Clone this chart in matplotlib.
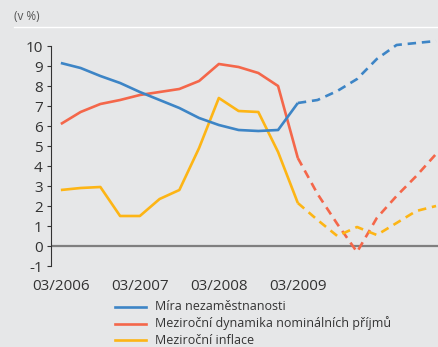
import matplotlib.pyplot as plt
import numpy as np

plt.rcParams['font.family'] = ['Open Sans', 'DejaVu Sans']
plt.rcParams['axes.unicode_minus'] = False

# quarterly observations 03/2006 .. 12/2010, forecast from index 12 on
tick_labels = ['03/2006', '03/2007', '03/2008', '03/2009']
unemployment = [9.15, 8.9, 8.5, 8.15, 7.7, 7.3, 6.9, 6.4, 6.05, 5.8, 5.75, 5.8,
                7.15, 7.3, 7.75, 8.35, 9.35, 10.05, 10.15, 10.25]
income_growth = [6.1, 6.7, 7.1, 7.3, 7.55, 7.7, 7.85, 8.25, 9.1, 8.95, 8.65, 8.0,
                 4.4, 2.6, 1.1, -0.3, 1.4, 2.5, 3.5, 4.6]
inflation = [2.8, 2.9, 2.95, 1.5, 1.5, 2.35, 2.8, 4.9, 7.4, 6.75, 6.7, 4.7,
             2.15, 1.3, 0.5, 0.95, 0.55, 1.15, 1.75, 2.0]
series_names = ['Míra nezaměstnanosti',
                'Meziroční dynamika nominálních příjmů',
                'Meziroční inflace']
colours = ['#3d85c6', '#f4674a', '#fdb515']
split = 12

bg = '#e6e7e8'
fig = plt.figure(figsize=(4.39, 3.47), dpi=100, facecolor=bg)
ax = fig.add_axes([51 / 439, 1 - 266 / 347, 1 - 51 / 439, 220 / 347], facecolor=bg)

x = np.arange(len(unemployment))
for values, colour in zip([income_growth, inflation, unemployment], [colours[1], colours[2], colours[0]]):
    v = np.array(values)
    ax.plot(x[:split + 1], v[:split + 1], color=colour, lw=1.9, solid_capstyle='butt',
            zorder=3, clip_on=False)
    ax.plot(x[split:], v[split:], color=colour, lw=1.9, dashes=(3.2, 2.2), zorder=3, clip_on=False)

ax.axhline(0, color='#7f7f7f', lw=1.6, zorder=2)

ax.set_xlim(-0.5, 19.15)
ax.set_ylim(-1, 10)
ax.set_yticks(range(-1, 11))
ax.set_xticks([0, 4, 8, 12])
ax.set_xticklabels(tick_labels)
ax.tick_params(axis='y', direction='out', length=3, width=0.8, color='#333333',
               labelsize=11, labelcolor='#333333', pad=3)
ax.tick_params(axis='x', length=0, labelsize=11, labelcolor='#333333', pad=9)
for side in ['top', 'right', 'bottom']:
    ax.spines[side].set_visible(False)
ax.spines['left'].set_color('#333333')
ax.spines['left'].set_linewidth(0.8)

fig.text(14 / 439, 1 - 16 / 347, '(v %)', fontsize=8.5, color='#555555', va='center')
fig.add_artist(plt.Line2D([14 / 439, 1], [1 - 27 / 347] * 2, color='white', lw=1.0))

# legend drawn by hand
for i, (name, colour) in enumerate(zip(series_names, colours)):
    yy = 1 - (307 + i * 16.5) / 347
    fig.add_artist(plt.Line2D([115 / 439, 146 / 439], [yy, yy], color=colour, lw=1.9))
    fig.text(155 / 439, yy, name, fontsize=9, color='#333333', va='center')

fig.savefig('out.png', dpi=100, facecolor=bg)
